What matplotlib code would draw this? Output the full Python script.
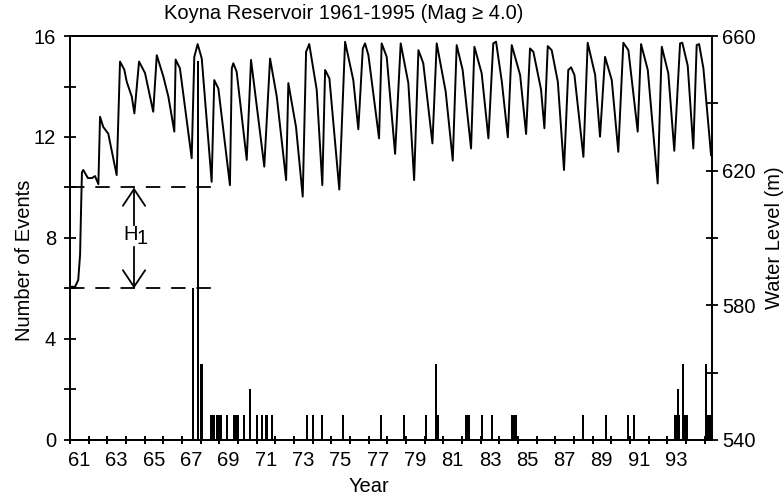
import matplotlib
matplotlib.use('Agg')
import matplotlib.pyplot as plt
from matplotlib.ticker import FixedLocator, MultipleLocator

plt.rcParams['font.family'] = ['Liberation Sans', 'DejaVu Sans']
plt.rcParams['font.size'] = 14.5

# water level of the reservoir (decimal year, metres)
level_year = [1961.00, 1961.27, 1961.44, 1961.54, 1961.59, 1961.64, 1961.71, 1961.96,
              1962.18, 1962.34, 1962.52, 1962.61, 1962.78, 1963.05, 1963.50, 1963.68,
              1963.91, 1964.04, 1964.31, 1964.45, 1964.70, 1965.02, 1965.46, 1965.65,
              1966.00, 1966.27, 1966.59, 1966.66, 1966.89, 1967.52, 1967.66, 1967.84,
              1968.06, 1968.59, 1968.73, 1968.95, 1969.57, 1969.67, 1969.75, 1969.93,
              1970.47, 1970.70, 1971.41, 1971.72, 1972.08, 1972.58, 1972.70, 1973.11,
              1973.47, 1973.65, 1973.82, 1974.22, 1974.52, 1974.67, 1974.90, 1975.43,
              1975.74, 1976.18, 1976.45, 1976.69, 1976.81, 1976.99, 1977.56, 1977.70,
              1977.97, 1978.42, 1978.72, 1979.13, 1979.44, 1979.67, 1979.93, 1980.42,
              1980.65, 1981.13, 1981.51, 1981.72, 1982.04, 1982.49, 1982.67, 1983.06,
              1983.42, 1983.68, 1983.83, 1984.14, 1984.46, 1984.67, 1985.12, 1985.44,
              1985.65, 1985.83, 1986.24, 1986.42, 1986.60, 1986.81, 1987.14, 1987.47,
              1987.70, 1987.85, 1988.03, 1988.51, 1988.74, 1989.14, 1989.40, 1989.67,
              1990.03, 1990.38, 1990.65, 1990.92, 1991.42, 1991.60, 1991.96, 1992.49,
              1992.71, 1993.06, 1993.38, 1993.69, 1993.81, 1994.10, 1994.40, 1994.58,
              1994.71, 1994.94, 1995.35]
level_m = [585.5, 585.5, 587.5, 595.0, 608.0, 619.5, 620.2, 617.8,
           617.8, 618.4, 616.0, 636.0, 633.0, 631.0, 618.7, 652.4,
           650.0, 646.4, 642.0, 637.0, 652.4, 649.0, 637.5, 654.3,
           648.0, 642.0, 631.6, 653.0, 650.4, 623.7, 653.8, 657.6,
           653.3, 616.7, 646.9, 644.4, 615.7, 650.4, 651.9, 649.4,
           623.2, 652.9, 621.2, 653.3, 642.0, 617.2, 646.0, 633.0,
           612.3, 655.3, 657.6, 644.0, 615.7, 649.9, 647.4, 614.4,
           658.3, 646.9, 632.3, 656.3, 657.8, 654.3, 629.6, 657.8,
           653.8, 625.0, 657.8, 646.0, 617.2, 655.8, 651.9, 628.1,
           657.8, 643.5, 623.0, 657.3, 649.9, 626.6, 656.8, 648.9,
           629.6, 657.8, 658.3, 646.4, 629.9, 657.3, 648.4, 630.9,
           656.3, 655.3, 644.1, 632.6, 657.0, 655.8, 646.4, 620.2,
           649.9, 650.7, 648.4, 624.1, 658.0, 648.4, 630.1, 653.8,
           646.9, 625.6, 658.0, 655.8, 631.6, 657.6, 649.9, 616.2,
           656.8, 648.9, 625.9, 657.8, 658.0, 651.2, 626.6, 657.3,
           657.6, 650.4, 624.6]

# earthquakes M >= 4.0 (decimal year, number of events)
quake_year = [1967.61, 1967.88, 1968.00, 1968.05,
              1968.56, 1968.63, 1968.70, 1968.90, 1969.00, 1969.10, 1969.40,
              1969.80, 1969.90, 1970.02, 1970.33, 1970.65, 1971.04, 1971.27,
              1971.50, 1971.58, 1971.80, 1973.72, 1974.04, 1974.52, 1975.65,
              1977.67, 1978.90, 1980.08, 1980.60, 1980.72, 1982.22, 1982.30,
              1982.37, 1983.08, 1983.63, 1984.70, 1984.80, 1984.90, 1988.48,
              1989.71, 1990.92, 1991.20, 1993.42, 1993.50, 1993.57, 1993.65,
              1993.87, 1993.97, 1994.05, 1995.07, 1995.17, 1995.27]
quake_count = [6, 15, 3, 3,
               1, 1, 1, 1, 1, 1, 1,
               1, 1, 1, 1, 2, 1, 1,
               1, 1, 1, 1, 1, 1, 1,
               1, 1, 1, 3, 1, 1, 1,
               1, 1, 1, 1, 1, 1, 1,
               1, 1, 1, 1, 1, 2, 1,
               3, 1, 1, 3, 1, 1]

label_years = list(range(1961, 1995, 2))

fig = plt.figure(figsize=(7.83, 4.98), dpi=100)
ax = fig.add_axes([0.0894, 0.1165, 0.8199, 0.8112])
ax2 = ax.twinx()

ax2.plot(level_year, level_m, color='black', lw=1.4)
ax.bar(quake_year, quake_count, width=0.11, color='black', linewidth=0)

ax.set_xlim(1961, 1995.4)
ax.set_ylim(0, 16)
ax2.set_ylim(540, 660)

# year labels sit in the middle of each year, ticks on year boundaries
ax.xaxis.set_major_locator(FixedLocator([y + 0.5 for y in label_years]))
ax.set_xticklabels([str(y)[2:] for y in label_years])
ax.xaxis.set_minor_locator(FixedLocator(list(range(1961, 1996))))
ax.tick_params(axis='x', which='major', length=0, pad=8)
ax.tick_params(axis='x', which='minor', length=6, width=1.4, direction='inout')

ax.set_yticks([0, 4, 8, 12, 16])
ax.yaxis.set_minor_locator(MultipleLocator(2))
ax.tick_params(axis='y', which='both', length=9, width=1.3, direction='inout', pad=5.5)
ax2.set_yticks([540, 580, 620, 660])
ax2.yaxis.set_minor_locator(MultipleLocator(20))
ax2.tick_params(axis='y', which='both', length=9, width=1.3, direction='inout', pad=3)

for a in (ax, ax2):
    for s in a.spines.values():
        s.set_linewidth(1.3)

# H1 annotation
ax.plot([1961, 1968.86], [10, 10], color='black', lw=1.3, ls=(0, (8, 6)))
ax.plot([1961, 1968.86], [6, 6], color='black', lw=1.3, ls=(0, (8, 6)))
arrow = dict(arrowstyle='->, head_length=0.6, head_width=0.4', lw=1.3, color='black',
             shrinkA=0, shrinkB=0, mutation_scale=20)
ax.annotate('', xy=(1964.43, 10), xytext=(1964.43, 8.5), arrowprops=arrow)
ax.annotate('', xy=(1964.43, 6), xytext=(1964.43, 7.65), arrowprops=arrow)
ax.text(1964.25, 8.12, 'H', ha='center', va='center')
ax.text(1964.88, 7.98, '1', ha='center', va='center')

fig.text(344 / 783, 0.972, 'Koyna Reservoir 1961-1995 (Mag \u2265 4.0)', ha='center', va='center')
fig.text(369 / 783, 0.024, 'Year', ha='center', va='center')
fig.text(25 / 783, 0.478, 'Number of Events', rotation=90, ha='center', va='center')
fig.text(774 / 783, 0.523, 'Water Level (m)', rotation=90, ha='center', va='center')

fig.savefig('out.png', dpi=100)
